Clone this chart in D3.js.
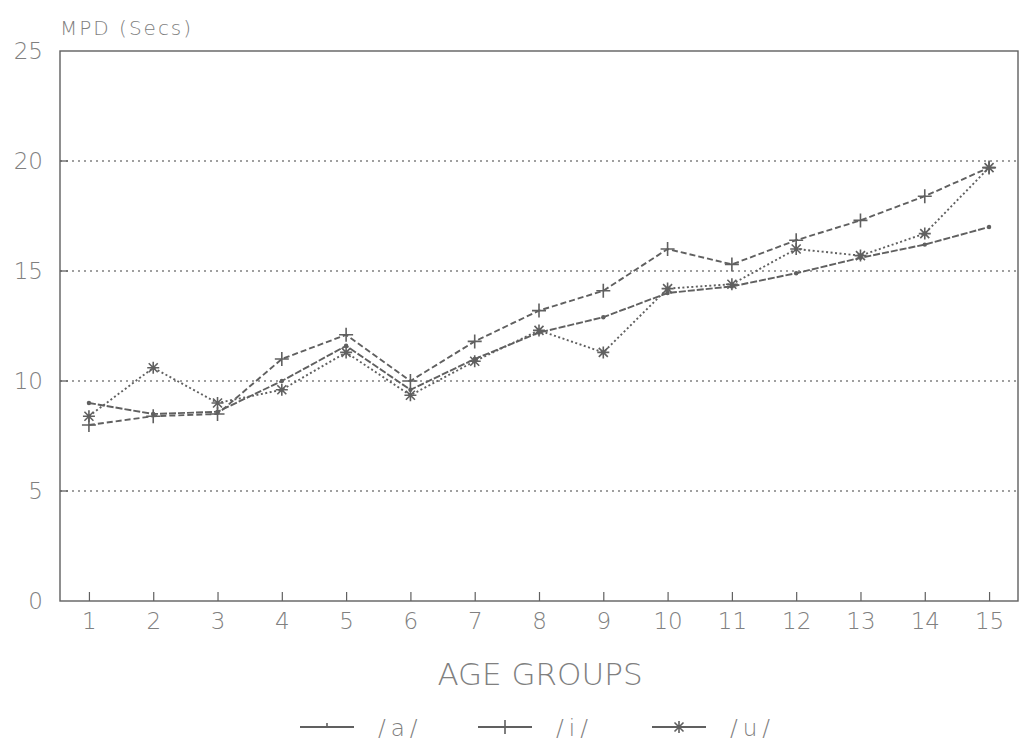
<!DOCTYPE html>
<html>
<head>
<meta charset="utf-8">
<script src="https://cdn.jsdelivr.net/npm/d3@7"></script>
<style>
  body { margin: 0; background: #fff; }
  text { font-family: "DejaVu Sans", sans-serif; font-weight: 200; fill: #808080; }
</style>
</head>
<body>
<svg width="1023" height="752"></svg>
<script>
// age groups on the x axis
const ageGroups = d3.range(1, 16)
// MPD in seconds
const seriesA = [9.0, 8.5, 8.6, 10.0, 11.6, 9.6, 11.0, 12.2, 12.9, 14.0, 14.3, 14.9, 15.6, 16.2, 17.0]
const seriesI = [8.0, 8.4, 8.5, 11.0, 12.1, 10.0, 11.8, 13.2, 14.1, 16.0, 15.3, 16.4, 17.3, 18.4, 19.7]
const seriesU = [8.4, 10.6, 9.0, 9.6, 11.3, 9.35, 10.9, 12.3, 11.3, 14.2, 14.4, 16.0, 15.7, 16.7, 19.7]
const yTicks = [0, 5, 10, 15, 20, 25]
const seriesNames = ["/a/", "/i/", "/u/"]

const width = 1023
const margin = { top: 51, right: 5, bottom: 151, left: 60 }
const height = 752

const x = d3.scaleLinear()
  .domain([0.55, 15.45])
  .range([margin.left, width - margin.right])
const y = d3.scaleLinear()
  .domain([0, 25])
  .range([height - margin.bottom, margin.top])

const svg = d3.select("svg")
const ink = "#606060"

// dotted gridlines
svg.append("g")
  .selectAll("line")
  .data(yTicks.filter(d => d > 0 && d < 25))
  .enter().append("line")
    .attr("x1", x(0.55)).attr("x2", x(15.45))
    .attr("y1", d => y(d)).attr("y2", d => y(d))
    .attr("stroke", "#808080")
    .attr("stroke-width", 1.3)
    .attr("stroke-dasharray", "2,4")

// small solid stubs where gridlines meet the y axis
svg.append("g")
  .selectAll("line")
  .data(yTicks.filter(d => d > 0 && d < 25))
  .enter().append("line")
    .attr("x1", x(0.55)).attr("x2", x(0.55) + 8)
    .attr("y1", d => y(d)).attr("y2", d => y(d))
    .attr("stroke", ink).attr("stroke-width", 1.3)

// frame
svg.append("rect")
  .attr("x", x(0.55)).attr("y", y(25))
  .attr("width", x(15.45) - x(0.55))
  .attr("height", y(0) - y(25))
  .attr("fill", "none")
  .attr("stroke", ink)
  .attr("stroke-width", 1.4)

// x axis ticks pointing up
svg.append("g")
    .attr("transform", `translate(0,${y(0)})`)
    .call(d3.axisBottom(x).tickValues(ageGroups).tickSize(-9).tickPadding(12).tickFormat(d3.format("d")))
    .call(g => g.select(".domain").remove())
    .call(g => g.selectAll(".tick line").attr("stroke", ink).attr("stroke-width", 1.2))
    .call(g => g.selectAll(".tick text")
      .attr("font-size", 23).attr("fill", "#808080")
      .style("font-family", "'DejaVu Sans', sans-serif"))

// y axis labels
svg.append("g")
    .attr("transform", `translate(${x(0.55)},0)`)
    .call(d3.axisLeft(y).tickValues(yTicks).tickSize(0).tickPadding(17))
    .call(g => g.select(".domain").remove())
    .call(g => g.selectAll(".tick text")
      .attr("font-size", 23).attr("fill", "#808080")
      .style("font-family", "'DejaVu Sans', sans-serif"))

svg.append("text")
  .attr("x", 60).attr("y", 35)
  .attr("font-size", 20)
  .attr("letter-spacing", 2)
  .text("MPD (Secs)")

svg.append("text")
  .attr("x", 540).attr("y", 685)
  .attr("text-anchor", "middle")
  .attr("font-size", 31)
  .text("AGE GROUPS")

// marker shapes
function plus(s) { return `M${-s},0H${s}M0,${-s}V${s}` }
function star(s) { const d = s * 0.75; return plus(s) + `M${-d},${-d}L${d},${d}M${-d},${d}L${d},${-d}` }

const series = [
  { name: seriesNames[0], values: seriesA, dash: "7,2", marker: null },
  { name: seriesNames[1], values: seriesI, dash: "6,3", marker: plus(7) },
  { name: seriesNames[2], values: seriesU, dash: "2,2.5", marker: star(6) }
]

const line = d3.line()
  .x((d, i) => x(ageGroups[i]))
  .y(d => y(d))

series.forEach(s => {
  svg.append("path")
    .datum(s.values)
    .attr("fill", "none")
    .attr("stroke", ink)
    .attr("stroke-width", 1.9)
    .attr("stroke-dasharray", s.dash)
    .attr("d", line)

  if (s.marker) {
    svg.append("g")
      .selectAll("path")
      .data(s.values)
      .enter().append("path")
        .attr("transform", (d, i) => `translate(${x(ageGroups[i])},${y(d)})`)
        .attr("d", s.marker)
        .attr("stroke", ink)
        .attr("stroke-width", 1.6)
        .attr("fill", "none")
  } else {
    svg.append("g")
      .selectAll("circle")
      .data(s.values)
      .enter().append("circle")
        .attr("cx", (d, i) => x(ageGroups[i]))
        .attr("cy", d => y(d))
        .attr("r", 2.2)
        .attr("fill", ink)
  }
})

// legend
const legendX = [300, 478, 652]
const legend = svg.append("g")
  .selectAll("g")
  .data(series)
  .enter().append("g")
    .attr("transform", (d, i) => `translate(${legendX[i]},727)`)

legend.append("line")
  .attr("x1", 0).attr("x2", 54)
  .attr("stroke", ink).attr("stroke-width", 1.8)
legend.append("path")
  .attr("transform", "translate(27,0)")
  .attr("d", d => d.marker || "M0,-4V0")
  .attr("stroke", ink).attr("stroke-width", 1.6).attr("fill", "none")
legend.append("text")
  .attr("x", 78).attr("y", 9)
  .attr("font-size", 23)
  .attr("letter-spacing", 5)
  .text(d => d.name)
</script>
</body>
</html>
